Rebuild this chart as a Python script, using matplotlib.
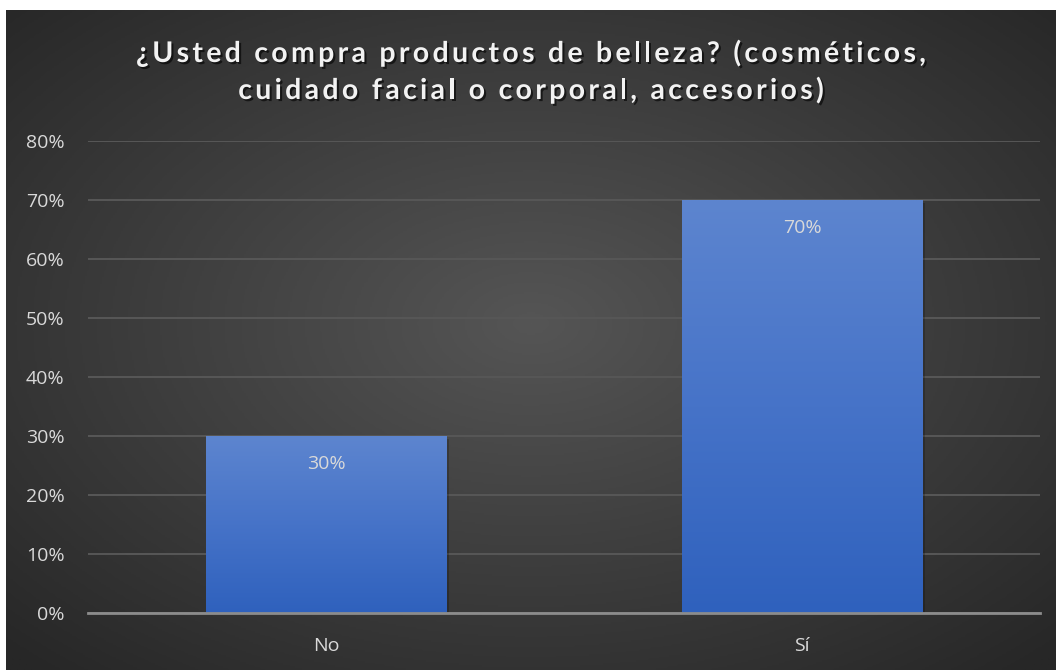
import numpy as np
import matplotlib
matplotlib.use("Agg")
import matplotlib.pyplot as plt
import matplotlib.patheffects as pe
from matplotlib.colors import LinearSegmentedColormap
from matplotlib.font_manager import FontProperties

categories = ["No", "Sí"]
shares = [30, 70]
yticks = [0, 10, 20, 30, 40, 50, 60, 70, 80]
title_lines = ["¿Usted compra productos de belleza? (cosméticos,",
               "cuidado facial o corporal, accesorios)"]

W, H = 1056, 670
fig = plt.figure(figsize=(W / 100, H / 100), dpi=100)
fig.patch.set_facecolor("white")

# dark panel with a radial glow in the middle
bg = fig.add_axes([6 / W, 0, 1 - 6 / W, 660 / H])
bg.set_axis_off()
yy, xx = np.mgrid[-1:1:400j, -1:1:600j]
r = np.sqrt(xx ** 2 + (yy + 0.05) ** 2) / np.sqrt(2)
glow = LinearSegmentedColormap.from_list("glow", ["#555555", "#3e3e3e", "#272727"])
bg.imshow(r, cmap=glow, aspect="auto", extent=[0, 1, 0, 1], vmin=0, vmax=1)
bg.set_xlim(0, 1)
bg.set_ylim(0, 1)

ax = fig.add_axes([88 / W, (H - 613) / H, 952 / W, 472 / H])
ax.patch.set_alpha(0)

x = np.arange(len(categories))
bars = ax.bar(x, shares, width=0.505, color="none", zorder=3)

bar_cmap = LinearSegmentedColormap.from_list("bar", ["#2f61bd", "#4673c8", "#5d85cf"])
grad = np.linspace(0, 1, 256).reshape(-1, 1)
for b, v in zip(bars, shares):
    x0, w = b.get_x(), b.get_width()
    # faint shadow behind the bar
    sh = plt.Rectangle((x0, 0), w, v, facecolor="none", edgecolor="none", zorder=2,
                       path_effects=[pe.SimplePatchShadow(offset=(2, -2), shadow_rgbFace="black", alpha=0.2)])
    ax.add_patch(sh)
    im = ax.imshow(grad, cmap=bar_cmap, aspect="auto", origin="lower",
                   extent=[x0, x0 + w, 0, v], zorder=3)
    im.set_clip_path(b)
    ax.text(x0 + w / 2, v - 4.75, f"{v}%", ha="center", va="center",
            color="#d9d9d9", fontsize=14, family="Open Sans", zorder=4)

ax.set_xlim(-0.5, 1.5)
ax.set_ylim(0, 80)
ax.set_yticks(yticks)
ax.set_yticklabels([f"{t}%" for t in yticks])
ax.set_xticks(x)
ax.set_xticklabels(categories)
ax.yaxis.grid(True, color="#575757", linewidth=1.4, zorder=0)
ax.set_axisbelow(True)
for s in ["top", "right", "left"]:
    ax.spines[s].set_visible(False)
ax.spines["bottom"].set_color("#8c8c8c")
ax.spines["bottom"].set_linewidth(2)
ax.spines["bottom"].set_zorder(5)
ax.tick_params(axis="both", length=0, colors="#d9d9d9", labelsize=14)
ax.tick_params(axis="y", pad=17)
ax.tick_params(axis="x", pad=17)
for lbl in ax.get_xticklabels() + ax.get_yticklabels():
    lbl.set_family("Open Sans")

# spaced-out title, laid out one character at a time
renderer = fig.canvas.get_renderer()
tprop = FontProperties(family="Lato", weight="bold", size=20.5)


def text_w(s):
    return renderer.get_text_width_height_descent(s, tprop, ismath=False)[0]


def advances(line):
    ref = text_w("x")
    return [text_w(line[:i] + "x") - ref for i in range(len(line))]


pos1 = advances(title_lines[0])
natural1 = pos1[-1] + text_w(title_lines[0][-1])
track = (790 - natural1) / (len(title_lines[0]) - 1)

shadow = [pe.SimplePatchShadow(offset=(1.5, -1.5), shadow_rgbFace="black", alpha=0.6), pe.Normal()]
for line, base in zip(title_lines, [62, 99]):
    pos = advances(line)
    total = pos[-1] + text_w(line[-1]) + track * (len(line) - 1)
    left = (6 + W) / 2 - total / 2
    for i, ch in enumerate(line):
        if ch == " ":
            continue
        fig.text((left + pos[i] + i * track) / W, (H - base) / H, ch, ha="left", va="baseline",
                 color="#f2f2f2", fontproperties=tprop, path_effects=shadow)

fig.savefig("out.png", dpi=100)
